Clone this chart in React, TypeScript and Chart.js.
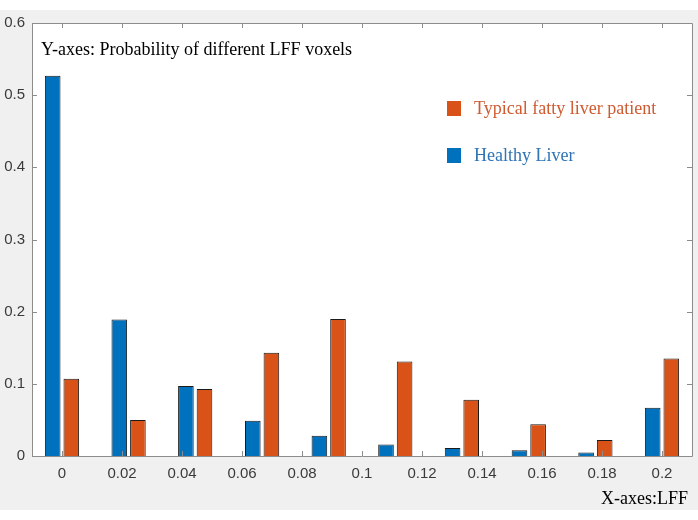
import React, { useEffect, useRef } from "react";
import { Chart, registerables } from "chart.js";

Chart.register(...registerables);

// Bar positions along the LFF axis (10 groups, 0 .. 0.2)
const binPositions = [0, 0.0222, 0.0444, 0.0667, 0.0889, 0.1111, 0.1333, 0.1556, 0.1778, 0.2];
const healthyLiver = [0.527, 0.189, 0.097, 0.049, 0.028, 0.016, 0.011, 0.008, 0.005, 0.067];
const fattyLiver = [0.107, 0.05, 0.093, 0.143, 0.19, 0.131, 0.078, 0.044, 0.022, 0.135];
const xTickLabels = ["0", "0.02", "0.04", "0.06", "0.08", "0.1", "0.12", "0.14", "0.16", "0.18", "0.2"];
const yTickLabels = ["0", "0.1", "0.2", "0.3", "0.4", "0.5", "0.6"];
const seriesNames = ["Healthy Liver", "Typical fatty liver patient"];
const yAxisNote = "Y-axes: Probability of different LFF voxels";
const xAxisNote = "X-axes:LFF";

const BLUE = "#0072BD";
const ORANGE = "#D95319";
const AXIS = "#8c8c8c";
const SERIF = '"Liberation Serif", "Times New Roman", serif';
const SANS = '"Liberation Sans", Arial, sans-serif';

const decorPlugin = {
  id: "decor",
  beforeDraw(chart: any) {
    const { ctx, width, height } = chart;
    ctx.save();
    ctx.fillStyle = "#ffffff";
    ctx.fillRect(0, 0, width, height);
    ctx.fillStyle = "#f0f0f0";
    ctx.fillRect(0, 10, width, 500);
    const a = chart.chartArea;
    ctx.fillStyle = "#ffffff";
    ctx.fillRect(a.left, a.top, a.right - a.left, a.bottom - a.top);
    ctx.restore();
  },
  afterDatasetsDraw(chart: any) {
    const { ctx } = chart;
    const a = chart.chartArea;
    const xs = chart.scales.x;
    const ys = chart.scales.y;
    ctx.save();
    ctx.strokeStyle = AXIS;
    ctx.lineWidth = 1;
    ctx.beginPath();
    ctx.rect(Math.round(a.left) + 0.5, Math.round(a.top) + 0.5, Math.round(a.right - a.left), Math.round(a.bottom - a.top));
    ctx.stroke();
    const tl = 5;
    ctx.beginPath();
    xs.ticks.forEach((t: any) => {
      const px = Math.round(xs.getPixelForValue(t.value)) + 0.5;
      ctx.moveTo(px, a.bottom);
      ctx.lineTo(px, a.bottom - tl);
      ctx.moveTo(px, a.top);
      ctx.lineTo(px, a.top + tl);
    });
    ys.ticks.forEach((t: any) => {
      const py = Math.round(ys.getPixelForValue(t.value)) + 0.5;
      ctx.moveTo(a.left, py);
      ctx.lineTo(a.left + tl, py);
      ctx.moveTo(a.right, py);
      ctx.lineTo(a.right - tl, py);
    });
    ctx.stroke();

    // notes
    ctx.fillStyle = "#000000";
    ctx.font = `18px ${SERIF}`;
    ctx.textBaseline = "alphabetic";
    ctx.textAlign = "left";
    ctx.fillText(yAxisNote, 41, 55);
    ctx.textAlign = "right";
    ctx.fillText(xAxisNote, 688, 504);

    // legend (fatty first, then healthy)
    const ds = chart.data.datasets;
    const order = [1, 0];
    const textColors = ["#2f74b5", "#cf5a30"];
    order.forEach((di, i) => {
      const y = 101 + i * 47;
      ctx.fillStyle = ds[di].backgroundColor;
      ctx.fillRect(447, y, 14, 15);
      ctx.fillStyle = textColors[di];
      ctx.textAlign = "left";
      ctx.textBaseline = "middle";
      ctx.font = `18px ${SERIF}`;
      ctx.fillText(ds[di].label, 474, y + 8);
    });
    ctx.restore();
  },
};

export default function App() {
  const ref = useRef<HTMLCanvasElement>(null);
  useEffect(() => {
    document.body.style.margin = "0";
    const xTickValues = xTickLabels.map((s) => parseFloat(s));
    const yTickValues = yTickLabels.map((s) => parseFloat(s));
    const chart = new Chart(ref.current!, {
      type: "bar",
      data: {
        datasets: [
          {
            label: seriesNames[0],
            data: binPositions.map((x, i) => ({ x, y: healthyLiver[i] })),
            backgroundColor: BLUE,
            borderColor: "#1a1a1a",
            borderWidth: 1,
          },
          {
            label: seriesNames[1],
            data: binPositions.map((x, i) => ({ x, y: fattyLiver[i] })),
            backgroundColor: ORANGE,
            borderColor: "#1a1a1a",
            borderWidth: 1,
          },
        ],
      },
      plugins: [decorPlugin],
      options: {
        animation: false,
        responsive: false,
        maintainAspectRatio: false,
        categoryPercentage: 0.62,
        barPercentage: 0.84,
        layout: { padding: { left: 0, top: 23, right: 6, bottom: 0 } },
        plugins: { legend: { display: false }, tooltip: { enabled: false } },
        scales: {
          x: {
            type: "linear",
            min: -0.01,
            max: 0.21,
            offset: false,
            grid: { display: false, drawTicks: false },
            border: { display: false },
            afterBuildTicks: (s: any) => {
              s.ticks = xTickValues.map((v) => ({ value: v }));
            },
            afterFit: (s: any) => {
              s.height = 64;
            },
            ticks: {
              padding: 9,
              color: "#3a3a3a",
              font: { family: SANS, size: 15 },
              maxRotation: 0,
              autoSkip: false,
              callback: (v: any) => {
                const i = xTickValues.findIndex((t) => Math.abs(t - v) < 1e-9);
                return i >= 0 ? xTickLabels[i] : "";
              },
            },
          },
          y: {
            min: 0,
            max: 0.6,
            grid: { display: false, drawTicks: false },
            border: { display: false },
            afterBuildTicks: (s: any) => {
              s.ticks = yTickValues.map((v) => ({ value: v }));
            },
            afterFit: (s: any) => {
              s.width = 32;
            },
            ticks: {
              padding: 7,
              color: "#3a3a3a",
              font: { family: SANS, size: 15 },
              callback: (v: any) => {
                const i = yTickValues.findIndex((t) => Math.abs(t - v) < 1e-9);
                return i >= 0 ? yTickLabels[i] : "";
              },
            },
          },
        },
      },
    } as any);
    return () => chart.destroy();
  }, []);
  return (
    <div style={{ position: "absolute", left: 0, top: 0, width: 698, height: 520 }}>
      <canvas ref={ref} width={698} height={520} style={{ width: 698, height: 520 }} />
    </div>
  );
}
